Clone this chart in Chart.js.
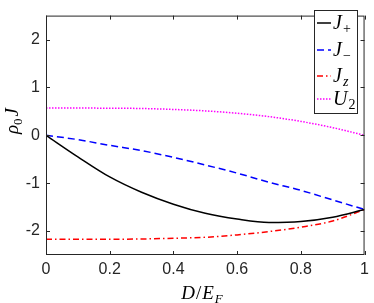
<!DOCTYPE html>
<html>
<head>
<meta charset="utf-8">
<script src="https://cdn.jsdelivr.net/npm/chart.js@4"></script>
<style>
html,body{margin:0;padding:0;background:#fff;}
canvas{display:block;}
</style>
</head>
<body>
<canvas id="c" width="374" height="303"></canvas>
<script>
// ---- data ----
const dValues = [0, 0.1, 0.2, 0.3, 0.4, 0.5, 0.6, 0.7, 0.8, 0.9, 1.0];
const jPlus   = [0, -0.45, -0.87, -1.19, -1.44, -1.63, -1.75, -1.82, -1.80, -1.71, -1.55];
const jMinus  = [0, -0.09, -0.21, -0.32, -0.46, -0.62, -0.79, -0.98, -1.15, -1.35, -1.55];
const jZ      = [-2.17, -2.17, -2.17, -2.165, -2.15, -2.13, -2.08, -2.01, -1.92, -1.79, -1.55];
const u2      = [0.57, 0.57, 0.565, 0.56, 0.54, 0.51, 0.46, 0.39, 0.29, 0.16, 0.0];
const xTicks  = [0, 0.2, 0.4, 0.6, 0.8, 1];
const yTicks  = [-2, -1, 0, 1, 2];
const seriesMain = ['J', 'J', 'J', 'U'];
const seriesSub  = ['+', '\u2212', 'z', '2'];
const seriesLabels = ['J+', 'J\u2212', 'Jz', 'U2'];

const AX = '#262626';
const toPts = arr => dValues.map((d, i) => ({x: d, y: arr[i]}));

const styles = [
  {color: '#000000', dash: []},
  {color: '#0000ff', dash: [7, 4]},
  {color: '#ff0000', dash: [6, 3, 1.5, 3]},
  {color: '#ff00ff', dash: [1.5, 1.5]}
];
const series = [jPlus, jMinus, jZ, u2];

const frame = {
  id: 'frame',
  afterDraw(chart) {
    const {ctx, chartArea: a, scales: {x, y}} = chart;
    ctx.save();
    ctx.strokeStyle = AX;
    ctx.lineWidth = 1;
    ctx.strokeRect(a.left + 0.5, a.top + 0.5, a.right - a.left - 1, a.bottom - a.top - 1);
    const tl = 4;
    ctx.beginPath();
    xTicks.forEach(v => {
      const px = Math.round(x.getPixelForValue(v)) + 0.5;
      ctx.moveTo(px, a.bottom); ctx.lineTo(px, a.bottom - tl);
      ctx.moveTo(px, a.top); ctx.lineTo(px, a.top + tl);
    });
    yTicks.forEach(v => {
      const py = Math.round(y.getPixelForValue(v)) + 0.5;
      ctx.moveTo(a.left, py); ctx.lineTo(a.left + tl, py);
      ctx.moveTo(a.right, py); ctx.lineTo(a.right - tl, py);
    });
    ctx.stroke();

    // legend
    const bx = 314, by = 10, bw = 43, bh = 103;
    ctx.fillStyle = '#fff';
    ctx.fillRect(bx, by, bw, bh);
    ctx.strokeStyle = AX;
    ctx.strokeRect(bx + 0.5, by + 0.5, bw, bh);
    const rows = [23, 50, 76, 99];
    chart.data.datasets.forEach((ds, i) => {
      const yy = rows[i];
      ctx.save();
      ctx.strokeStyle = ds.borderColor;
      ctx.lineWidth = 1.5;
      ctx.setLineDash(ds.borderDash || []);
      ctx.beginPath();
      ctx.moveTo(317, yy); ctx.lineTo(331, yy);
      ctx.stroke();
      ctx.restore();
      ctx.fillStyle = '#000';
      ctx.textBaseline = 'alphabetic';
      ctx.textAlign = 'left';
      ctx.font = 'italic 20px "Liberation Serif"';
      ctx.fillText(seriesMain[i], 333, yy + 6);
      const w = ctx.measureText(seriesMain[i]).width;
      const sub = seriesSub[i];
      ctx.font = (sub === 'z' ? 'italic ' : '') + '14px "Liberation Serif"';
      ctx.fillText(sub, 333 + w + 1, yy + 10);
    });

    // y title: rho_0 J
    ctx.save();
    ctx.translate(18, 121);
    ctx.rotate(-Math.PI / 2);
    ctx.fillStyle = '#000';
    ctx.textBaseline = 'alphabetic';
    ctx.font = 'italic 19px "Liberation Serif"';
    const wr = ctx.measureText('\u03c1').width;
    ctx.font = '13px "Liberation Serif"';
    const w0 = ctx.measureText('0').width;
    ctx.font = 'italic 19px "Liberation Serif"';
    const wj = ctx.measureText('J').width;
    const tot = wr + w0 + wj + 2;
    let cx = -tot / 2;
    ctx.fillText('\u03c1', cx, 0); cx += wr;
    ctx.font = '13px "Liberation Serif"';
    ctx.fillText('0', cx, 4); cx += w0 + 2;
    ctx.font = 'italic 19px "Liberation Serif"';
    ctx.fillText('J', cx, 0);
    ctx.restore();

    // x title: D/E_F
    ctx.fillStyle = '#000';
    const parts = [['D', 'italic 19px "Liberation Serif"', 0, 1], ['/', '19px "Liberation Serif"', 0, 1], ['E', 'italic 19px "Liberation Serif"', 0, 1], ['F', 'italic 13px "Liberation Serif"', 4, 0]];
    let total = 0;
    parts.forEach(p => { ctx.font = p[1]; total += ctx.measureText(p[0]).width + p[3]; });
    let px = 202 - total / 2;
    parts.forEach(p => { ctx.font = p[1]; ctx.fillText(p[0], px, 299 + p[2]); px += ctx.measureText(p[0]).width + p[3]; });
    ctx.restore();
  }
};

new Chart(document.getElementById('c'), {
  type: 'line',
  data: {
    datasets: series.map((arr, i) => ({
      label: seriesLabels[i],
      data: toPts(arr),
      borderColor: styles[i].color,
      backgroundColor: styles[i].color,
      borderDash: styles[i].dash,
      borderWidth: 1.5,
      pointRadius: 0,
      fill: false,
      cubicInterpolationMode: 'monotone'
    }))
  },
  options: {
    responsive: false,
    animation: false,
    devicePixelRatio: 1,
    layout: {padding: {top: 5, right: 7, left: 0, bottom: 0}},
    plugins: {legend: {display: false}, tooltip: {enabled: false}},
    scales: {
      x: {
        type: 'linear', min: 0, max: 1,
        grid: {display: false, drawTicks: false},
        border: {display: false},
        ticks: {color: AX, font: {family: '"Liberation Sans"', size: 16}, padding: 5, maxRotation: 0,
                callback: v => String(v)},
        afterBuildTicks: s => { s.ticks = xTicks.map(v => ({value: v})); },
        afterFit: s => { s.height = 48; }
      },
      y: {
        type: 'linear', min: -2.5, max: 2.5,
        grid: {display: false, drawTicks: false},
        border: {display: false},
        ticks: {color: AX, font: {family: '"Liberation Sans"', size: 16}, padding: 6,
                callback: v => String(v)},
        afterBuildTicks: s => { s.ticks = yTicks.map(v => ({value: v})); },
        afterFit: s => { s.width = 46; }
      }
    }
  },
  plugins: [frame]
});
</script>
</body>
</html>
